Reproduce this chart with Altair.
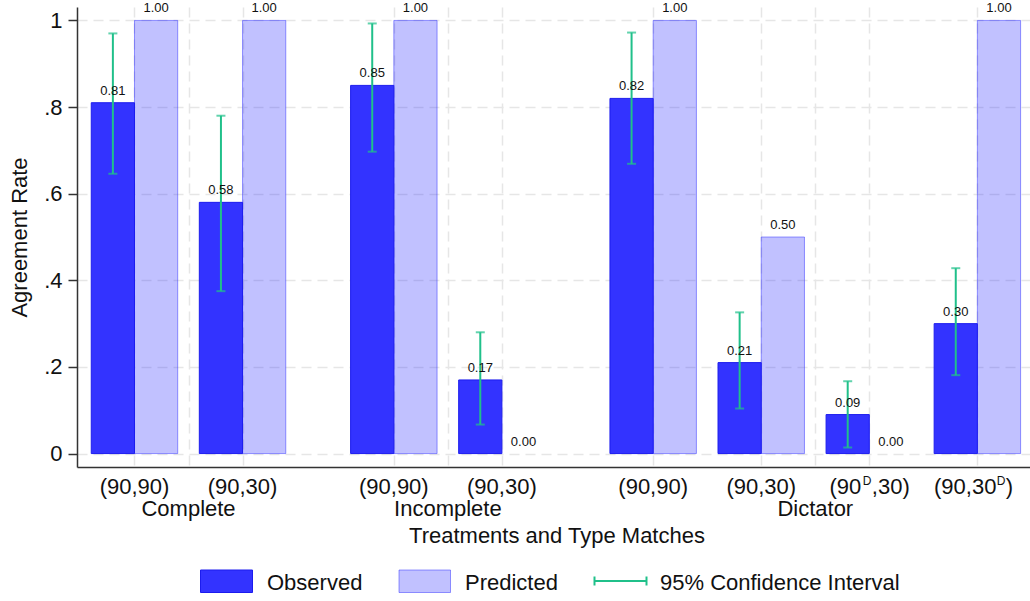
import altair as alt
import pandas as pd

# ---- data -------------------------------------------------------------
group_order = ["Complete", "Incomplete", "Dictator"]
groups = ["Complete", "Complete", "Incomplete", "Incomplete",
          "Dictator", "Dictator", "Dictator", "Dictator"]
# match labels are split so that the "D" can be drawn as a superscript
label_main = ["(90,90)", "(90,30)", "(90,90)", "(90,30)",
              "(90,90)", "(90,30)", "(90", "(90,30"]
label_sup = ["", "", "", "", "", "", "D", "D"]
label_tail = ["", "", "", "", "", "", ",30)", ")"]
observed = [0.81, 0.58, 0.85, 0.17, 0.82, 0.21, 0.09, 0.30]
predicted = [1.00, 1.00, 1.00, 0.00, 1.00, 0.50, 0.00, 1.00]
ci_low = [0.646, 0.375, 0.697, 0.067, 0.669, 0.104, 0.014, 0.181]
ci_high = [0.970, 0.780, 0.993, 0.280, 0.972, 0.326, 0.167, 0.428]
y_ticks = [0, 0.2, 0.4, 0.6, 0.8, 1.0]
y_tick_labels = ["0", ".2", ".4", ".6", ".8", "1"]
legend_labels = ["Observed", "Predicted", "95% Confidence Interval"]

# ---- layout / style ---------------------------------------------------
GROUP_GAP = 0.4      # extra space between treatments, in match units
BAR_W = 0.4          # width of each bar, in match units
X_DOMAIN = [-0.532, 8.287]
Y_DOMAIN = [-0.031, 1.031]
W, H = 953, 460
FONT = "Liberation Sans"
BLUE = "#3333FF"
OBS_STROKE = "#1C1CEE"
PRED_FILL_OP, PRED_STROKE_OP = 0.30, 0.50
CI_COLOR = "#20C08A"
GRID_COLOR = "#E6E6E6"
AXIS_COLOR = "#333333"
TEXT_COLOR = "#111111"

gidx = [group_order.index(g) for g in groups]
pos = [i + GROUP_GAP * g for i, g in enumerate(gidx)]

df = pd.DataFrame({
    "pos": pos,
    "group": groups,
    "main": label_main,
    "sup": label_sup,
    "tail": label_tail,
    "observed": observed,
    "predicted": predicted,
    "lo": ci_low,
    "hi": ci_high,
})
df["obs_x0"] = df["pos"] - BAR_W
df["obs_c"] = df["pos"] - BAR_W / 2
df["pred_x1"] = df["pos"] + BAR_W
df["pred_c"] = df["pos"] + BAR_W / 2
df["obs_txt"] = df["observed"].map(lambda v: f"{v:.2f}")
df["pred_txt"] = df["predicted"].map(lambda v: f"{v:.2f}")
df["zero"] = 0.0

grp = df.groupby("group", sort=False)["pos"].mean().reset_index()
grid_x = sorted(list(df["pos"]) + list(grp["pos"]))

xs = alt.Scale(domain=X_DOMAIN, nice=False, zero=False)
ys = alt.Scale(domain=Y_DOMAIN, nice=False, zero=False)

label_expr = "".join(
    f"abs(datum.value - {v}) < 1e-6 ? '{lab}' : " for v, lab in zip(y_ticks, y_tick_labels)
) + "''"

# one shared axis definition per direction, reused by every layer
x_axis = alt.Axis(
    values=grid_x, labels=False, ticks=False, title=None,
    grid=True, gridDash=[10, 6], gridColor=GRID_COLOR, gridWidth=1.5,
    domainColor=AXIS_COLOR, domainWidth=1.5)
y_axis = alt.Axis(
    values=y_ticks, labelExpr=label_expr, title="Agreement Rate",
    grid=True, gridDash=[10, 6], gridColor=GRID_COLOR, gridWidth=1.5,
    domainColor=AXIS_COLOR, domainWidth=1.5, tickColor=AXIS_COLOR,
    tickSize=9, tickWidth=1.5, labelPadding=6, labelFont=FONT,
    labelFontSize=22, labelColor=TEXT_COLOR, titleFont=FONT,
    titleFontSize=22, titleFontWeight="normal", titleColor=TEXT_COLOR,
    titlePadding=12)


def X(field):
    return alt.X(field, type="quantitative", scale=xs, axis=x_axis)


def Y(field):
    return alt.Y(field, type="quantitative", scale=ys, axis=y_axis)


base = alt.Chart(df)

obs_bars = base.mark_bar(fill=BLUE, stroke=OBS_STROKE, strokeWidth=1).encode(
    x=X("obs_x0"), x2="pos:Q", y=Y("observed"), y2="zero:Q")
# predicted bars are translucent, so the grid shows through them
pred_bars = base.transform_filter("datum.predicted > 0").mark_bar(
    fill=BLUE, fillOpacity=PRED_FILL_OP, stroke=BLUE, strokeOpacity=PRED_STROKE_OP,
    strokeWidth=1).encode(
    x=X("pos"), x2="pred_x1:Q", y=Y("predicted"), y2="zero:Q")

val_style = dict(font=FONT, fontSize=13, color=TEXT_COLOR, baseline="alphabetic", dy=-8)
obs_text = base.mark_text(**val_style).encode(
    x=X("obs_c"), y=Y("observed"), text="obs_txt:N")
pred_text = base.mark_text(**val_style).encode(
    x=X("pred_c"), y=Y("predicted"), text="pred_txt:N")

ci_line = base.mark_rule(color=CI_COLOR, strokeWidth=2).encode(
    x=X("obs_c"), y=Y("lo"), y2="hi:Q")
ci_cap_hi = base.mark_tick(color=CI_COLOR, orient="horizontal", size=9, thickness=2).encode(
    x=X("obs_c"), y=Y("hi"))
ci_cap_lo = base.mark_tick(color=CI_COLOR, orient="horizontal", size=9, thickness=2).encode(
    x=X("obs_c"), y=Y("lo"))

# x tick labels (with superscript D where needed)
TICK_Y = H + 27
SUP_Y = TICK_Y - 9.5
tick_style = dict(font=FONT, fontSize=22, color=TEXT_COLOR, baseline="alphabetic")
sup_style = dict(font=FONT, fontSize=12, color=TEXT_COLOR, baseline="alphabetic")
plain = base.transform_filter("datum.sup == ''").mark_text(**tick_style).encode(
    x=X("pos"), y=alt.value(TICK_Y), text="main:N")

sup1 = base.transform_filter("datum.tail == ',30)'")
sup2 = base.transform_filter("datum.tail == ')'")
s1_main = sup1.mark_text(align="right", dx=-8, **tick_style).encode(
    x=X("pos"), y=alt.value(TICK_Y), text="main:N")
s1_sup = sup1.mark_text(align="left", dx=-6.5, **sup_style).encode(
    x=X("pos"), y=alt.value(SUP_Y), text="sup:N")
s1_tail = sup1.mark_text(align="left", dx=2.5, **tick_style).encode(
    x=X("pos"), y=alt.value(TICK_Y), text="tail:N")
s2_main = sup2.mark_text(align="right", dx=19, **tick_style).encode(
    x=X("pos"), y=alt.value(TICK_Y), text="main:N")
s2_sup = sup2.mark_text(align="left", dx=19.5, **sup_style).encode(
    x=X("pos"), y=alt.value(SUP_Y), text="sup:N")
s2_tail = sup2.mark_text(align="left", dx=28.5, **tick_style).encode(
    x=X("pos"), y=alt.value(TICK_Y), text="tail:N")

group_text = alt.Chart(grp).mark_text(**tick_style).encode(
    x=X("pos"), y=alt.value(H + 49), text="group:N")

one = alt.Chart(pd.DataFrame({"k": [0]}))
x_title = one.mark_text(text="Treatments and Type Matches", **tick_style).encode(
    x=alt.value(480), y=alt.value(H + 76))

# legend along the bottom
LEG_TOP, LEG_BOT = H + 103, H + 125.5
leg_obs = one.mark_rect(fill=BLUE, stroke=OBS_STROKE, strokeWidth=1).encode(
    x=alt.value(123.5), x2=alt.value(175.5), y=alt.value(LEG_TOP), y2=alt.value(LEG_BOT))
leg_pred = one.mark_rect(fill=BLUE, fillOpacity=PRED_FILL_OP, stroke=BLUE,
                         strokeOpacity=PRED_STROKE_OP, strokeWidth=1).encode(
    x=alt.value(322), x2=alt.value(373.5), y=alt.value(LEG_TOP), y2=alt.value(LEG_BOT))
CI_Y = H + 114
leg_ci = one.mark_rule(color=CI_COLOR, strokeWidth=2).encode(
    x=alt.value(517), x2=alt.value(570), y=alt.value(CI_Y))
leg_ci_l = one.mark_rule(color=CI_COLOR, strokeWidth=2).encode(
    x=alt.value(517.5), y=alt.value(CI_Y - 4.5), y2=alt.value(CI_Y + 4.5))
leg_ci_r = one.mark_rule(color=CI_COLOR, strokeWidth=2).encode(
    x=alt.value(569.5), y=alt.value(CI_Y - 4.5), y2=alt.value(CI_Y + 4.5))
leg_text = [
    one.mark_text(text=lab, align="left", **tick_style).encode(
        x=alt.value(lx), y=alt.value(H + 123))
    for lab, lx in zip(legend_labels, [190, 388, 583])
]

chart = alt.layer(
    pred_bars, obs_bars, ci_line, ci_cap_hi, ci_cap_lo, obs_text, pred_text,
    plain, s1_main, s1_sup, s1_tail, s2_main, s2_sup, s2_tail, group_text, x_title,
    leg_obs, leg_pred, leg_ci, leg_ci_l, leg_ci_r, *leg_text,
).properties(
    width=W, height=H,
    padding={"left": 77, "top": 7, "right": 0, "bottom": 134},
    autosize=alt.AutoSizeParams(type="none"),
    background="white",
).configure_view(stroke=None)

chart.save("out.html", embed_options={"renderer": "svg", "actions": False})
